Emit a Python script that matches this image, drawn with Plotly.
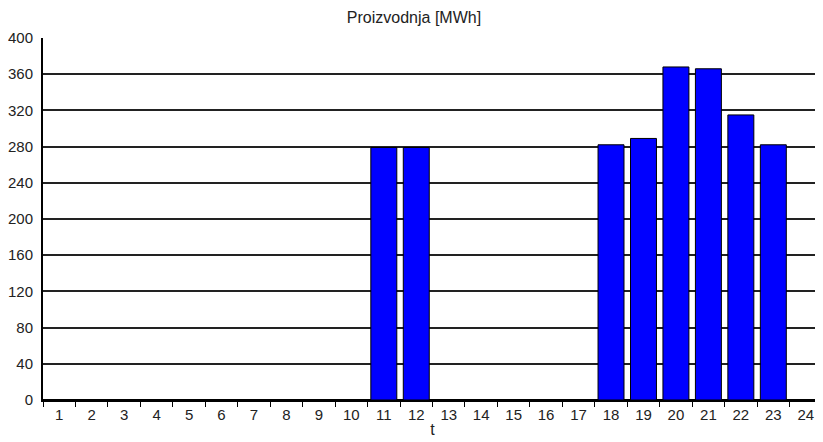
import plotly.graph_objects as go

hours = [str(h) for h in range(1, 25)]
production = [0, 0, 0, 0, 0, 0, 0, 0, 0, 0, 279, 279, 0, 0, 0, 0, 0, 282, 289, 368, 366, 315, 282, 0]
y_ticks = list(range(0, 401, 40))

# page body has an 8px default margin, so the figure is sized to fit after it
W, H = 815, 434

fig = go.Figure()
fig.add_trace(go.Bar(
    x=hours, y=production, width=0.8,
    marker=dict(color="#0000FF", line=dict(color="black", width=1)),
))

fig.update_layout(
    width=W, height=H,
    margin=dict(l=35, r=1, t=30, b=42),
    paper_bgcolor="white", plot_bgcolor="white",
    showlegend=False,
    font=dict(family="Liberation Sans, Arial", size=15, color="#222222"),
    title=dict(text="Proizvodnja [MWh]", x=406 / W, xanchor="center",
               y=1 - 9 / H, yanchor="middle", yref="container",
               font=dict(size=16, color="#222222")),
    bargap=0.2,
)
fig.update_xaxes(
    type="category", tickson="boundaries", ticks="outside", ticklen=5,
    tickcolor="black", tickwidth=1, showgrid=False,
    showline=True, linecolor="black", linewidth=2,
    title=dict(text="t", standoff=2, font=dict(size=16)),
    tickfont=dict(size=15), automargin=False,
)
fig.update_yaxes(
    range=[0, 400], tickvals=y_ticks, ticks="", showgrid=True,
    gridcolor="#222222", gridwidth=2, zeroline=True, zerolinecolor="black",
    zerolinewidth=2, showline=True, linecolor="black", linewidth=2,
    mirror=False, tickfont=dict(size=15), ticklabelstandoff=5,
    automargin=False,
)
fig.add_shape(type="line", xref="paper", yref="paper", x0=1, x1=1, y0=0, y1=1,
              line=dict(color="#aaaaaa", width=1))

fig.write_html("out.html")
